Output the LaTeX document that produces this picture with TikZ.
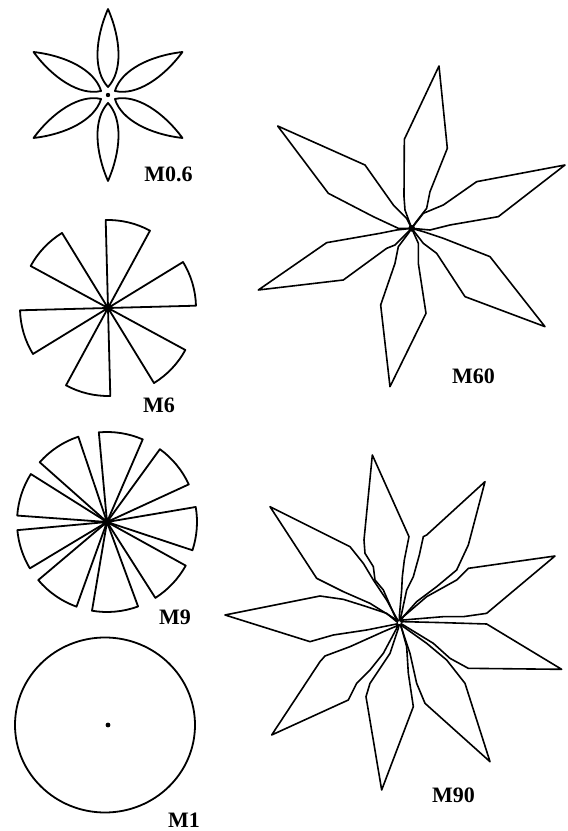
\documentclass[tikz,border=0pt]{standalone}
\usepackage{fontspec}
\setmainfont{Liberation Serif}
\begin{document}
\begin{tikzpicture}[x=1pt,y=1pt,line width=1.4pt,line join=round,
  lbl/.style={inner sep=0pt,font=\bfseries\fontsize{22}{24}\selectfont},
  shapeline/.style={draw=black,line width=1.8pt},
  thinline/.style={draw=black,line width=1.6pt}]
\useasboundingbox (0,0) rectangle (568,831);

% ---------- M0.6 : six lens petals ----------
\foreach \t in {30,90,150,210,270,330}{
  \begin{scope}[shift={(108,736)},rotate=\t]
    \draw[shapeline] (8,0) .. controls (24,15) and (56,13) .. (86,0)
                           .. controls (56,-13) and (24,-15) .. (8,0) -- cycle;
  \end{scope}
}
\fill (108,736) circle[radius=2.2];

% ---------- M6 : six sectors ----------
\begin{scope}[shift={(108,523)}]
  \foreach \a in {1.5,61.5,121.5,181.5,241.5,301.5}{
    \draw[shapeline] (0,0) -- (\a:88) arc[start angle=\a,end angle=\a+30,radius=88] -- cycle;
  }
  \fill (0,0) circle[radius=4];
\end{scope}

% ---------- M9 : nine sectors ----------
\begin{scope}[shift={(107,309)}]
  \foreach \a/\b in {95.2/66.6,54/24.7,9.6/-18.3,-29/-57.5,-69.8/-99.6,
                     -109.8/-139.8,-149/-174.8,175.9/147.8,138.4/108.6}{
    \draw[shapeline] (0,0) -- (\b:90) arc[start angle=\b,end angle=\a,radius=90] -- cycle;
  }
  \fill (0,0) circle[radius=2.5];
\end{scope}

% ---------- M1 : circle ----------
\draw[shapeline] (105,106) ellipse[x radius=90,y radius=87.5];
\fill (108,106) circle[radius=2.4];

% ---------- M60 : six rhombic petals ----------
\begin{scope}[shift={(210,781)},yscale=-1,scale=0.33333]
  \coordinate (c60) at (605,535);
  \draw[thinline] (c60)--(585,480)--(582,440)--(583,268)--(687,48)--(712,295)--(660,425)--(650,475)--(615,520)--cycle;
  \draw[thinline] (c60)--(640,490)--(700,465)--(800,395)--(1065,345)--(865,500)--(720,525)--(660,540)--cycle;
  \draw[thinline] (c60)--(640,545)--(700,565)--(840,620)--(1005,830)--(765,740)--(680,610)--(640,580)--cycle;
  \draw[thinline] (c60)--(625,580)--(625,640)--(648,790)--(540,1010)--(512,765)--(555,640)--(565,590)--(595,550)--cycle;
  \draw[thinline] (c60)--(560,540)--(510,550)--(350,578)--(145,720)--(400,690)--(530,595)--(555,585)--(580,560)--cycle;
  \draw[thinline] (c60)--(590,505)--(550,465)--(465,345)--(203,228)--(355,430)--(490,500)--(565,535)--cycle;
\end{scope}
\fill (411.7,602.7) circle[radius=3.4];

% ---------- M90 : nine rhombic petals ----------
\begin{scope}[shift={(210,391)},yscale=-1,scale=0.33333]
  \coordinate (c90) at (568,548);
  \draw[thinline] (c90)--(555,530)--(520,450)--(495,420)--(490,380)--(465,340)--(462,300)--(487,45)--(597,290)--(583,360)--(577,410)--(575,450)--(568,530)--cycle;
  \draw[thinline] (c90)--(575,520)--(590,450)--(610,410)--(628,345)--(640,290)--(650,285)--(825,125)--(775,315)--(740,390)--(680,440)--(620,485)--(580,530)--cycle;
  \draw[thinline] (c90)--(580,530)--(650,470)--(740,420)--(775,385)--(1035,348)--(830,520)--(760,530)--(700,530)--(580,540)--cycle;
  \draw[thinline] (c90)--(580,545)--(700,548)--(830,552)--(1055,688)--(775,685)--(720,655)--(670,610)--(580,555)--cycle;
  \draw[thinline] (c90)--(580,560)--(650,610)--(710,660)--(765,730)--(840,965)--(645,790)--(620,730)--(600,640)--(575,565)--cycle;
  \draw[thinline] (c90)--(575,565)--(590,620)--(595,700)--(610,800)--(515,1050)--(468,770)--(480,730)--(500,700)--(540,640)--(565,565)--cycle;
  \draw[thinline] (c90)--(560,565)--(520,640)--(480,690)--(440,730)--(415,780)--(185,885)--(330,665)--(345,648)--(420,620)--(520,575)--(560,558)--cycle;
  \draw[thinline] (c90)--(560,552)--(470,570)--(370,585)--(300,605)--(45,525)--(330,468)--(400,478)--(470,500)--(530,520)--(560,545)--cycle;
  \draw[thinline] (c90)--(560,540)--(480,490)--(400,455)--(320,415)--(180,200)--(420,320)--(460,370)--(490,420)--(530,480)--(560,535)--cycle;
\end{scope}
\draw[line width=0.8pt,fill=white] (399.3,208.3) circle[radius=2];

% ---------- labels ----------
\node[lbl] (l06) at (168.5,657) {M0.6};
\node[lbl] (l6)  at (159,425.5) {M6};
\node[lbl] (l9)  at (175,214) {M9};
\node[lbl] (l1)  at (184,10.5) {M1};
\node[lbl] (l60) at (473.5,454.5) {M60};
\node[lbl] (l90) at (453.5,35.5) {M90};
\end{tikzpicture}
\end{document}
